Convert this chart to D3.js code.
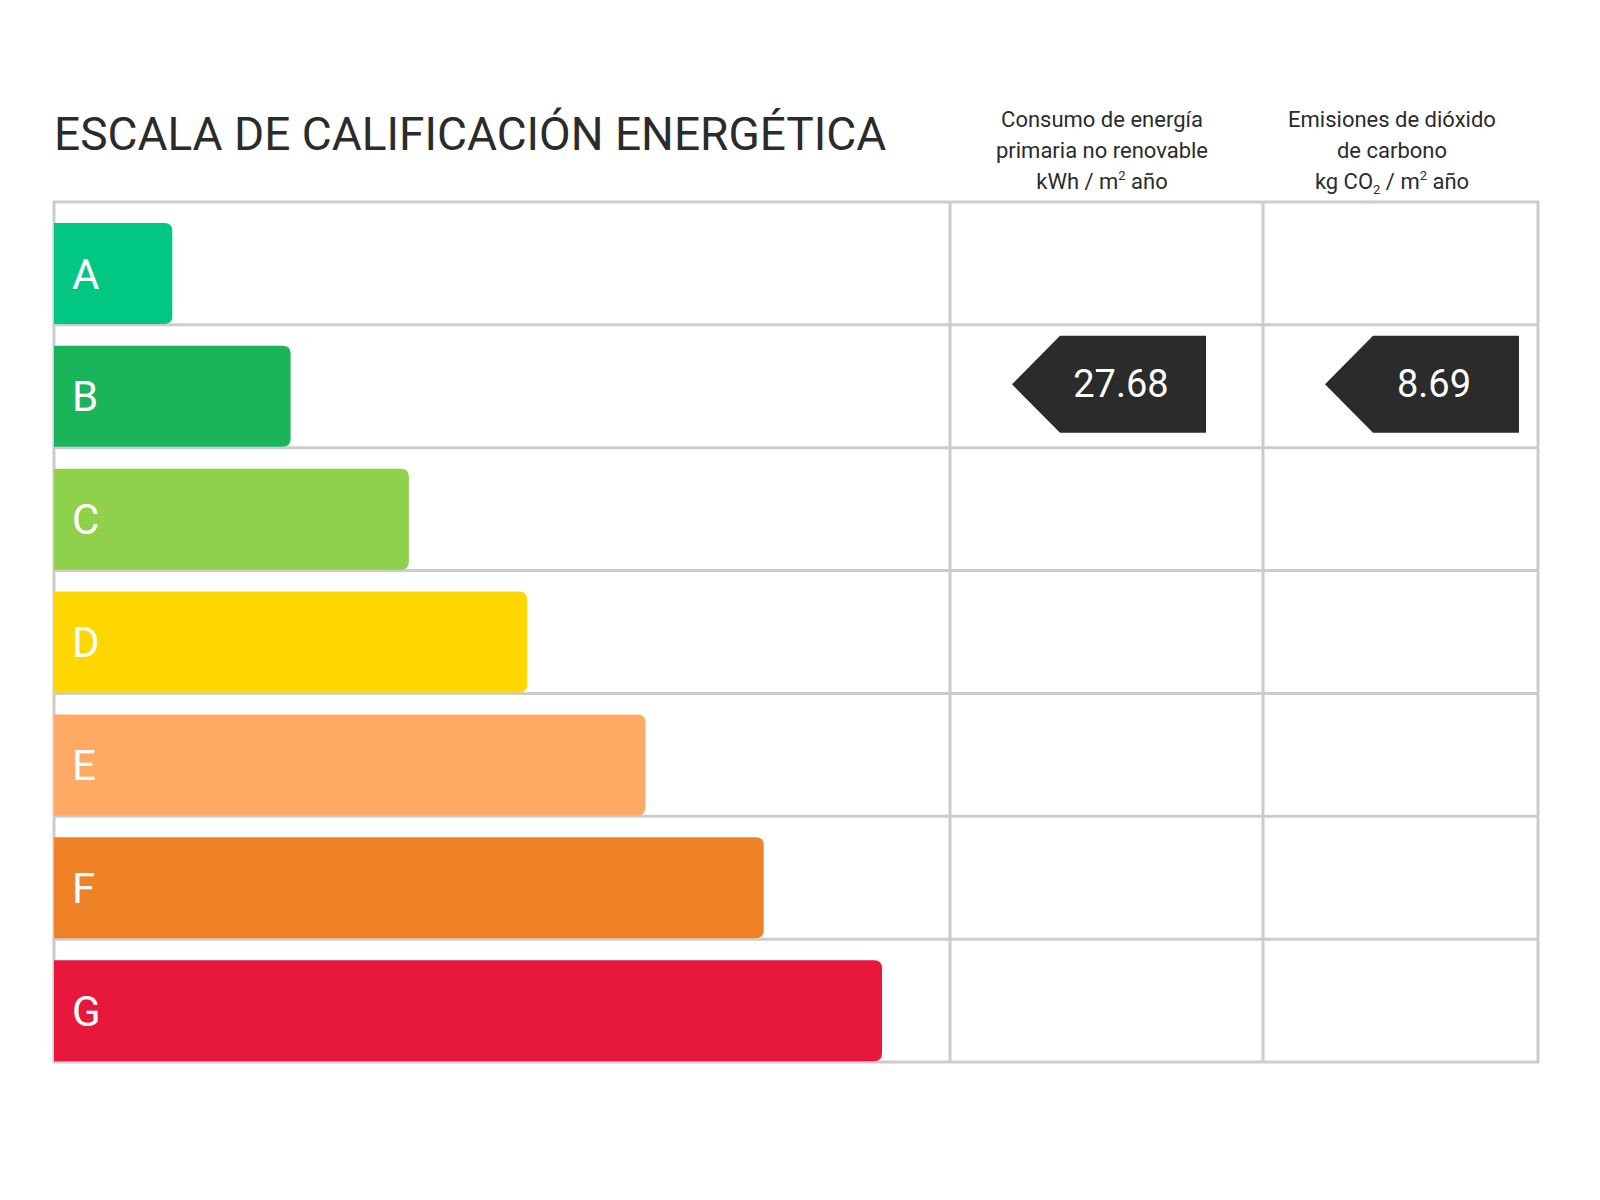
<!DOCTYPE html>
<html><head><meta charset="utf-8">
<script src="https://cdn.jsdelivr.net/npm/d3@7"></script>
<style>body{margin:0;background:#fff}svg text{font-family:Roboto,"DejaVu Sans",sans-serif}</style>
</head><body><svg id="c" width="1600" height="1200"></svg>
<script>
// ── Data ──
const classes = ['A','B','C','D','E','F','G'];
const colors  = ['#00c882','#1ab45a','#8fd14a','#ffd700','#ffaa64','#ef8127','#e8173c'];
const barLen  = [1,2,3,4,5,6,7];
const ratings = [{col:0, cls:'B', value:'27.68'}, {col:1, cls:'B', value:'8.69'}];

const svg = d3.select('#c');
const x0 = 54, x1 = 1538, gTop = 202, gBottom = 1062, colX = [950,1263,1538];
const ink = '#2b2b2b', grid = '#cccccc';

const y = d3.scaleBand().domain(classes).range([gTop,gBottom]);
const w = d3.scaleLinear().domain([0,7]).range([x0,882]);

// ── Title & headers ──
svg.append('text').attr('x',x0).attr('y',150).attr('font-size',46).attr('fill',ink)
  .text('ESCALA DE CALIFICACIÓN ENERGÉTICA');
const hdr = [
  [{t:'Consumo de energía'},{t:'primaria no renovable'},{t:'kWh / m',sup:'2',tail:' año'}],
  [{t:'Emisiones de dióxido'},{t:'de carbono'},{t:'kg CO',sub:'2',mid:' / m',sup:'2',tail:' año'}]
];
const hx = [1102,1392];
hdr.forEach((lines,i)=>lines.forEach((l,j)=>{
  const t = svg.append('text').attr('x',hx[i]).attr('y',127+j*31).attr('text-anchor','middle')
    .attr('font-size',22).attr('fill',ink).text(l.t);
  if(l.sub){ t.append('tspan').attr('font-size',13).attr('dy',5).text(l.sub);
             t.append('tspan').attr('font-size',22).attr('dy',-5).text(l.mid); }
  if(l.sup){ t.append('tspan').attr('font-size',13).attr('dy',-9).text(l.sup);
             t.append('tspan').attr('font-size',22).attr('dy',9).text(l.tail); }
}));

// ── Grid ──
svg.append('rect').attr('x',x0).attr('y',gTop).attr('width',x1-x0).attr('height',gBottom-gTop)
  .attr('fill','none').attr('stroke',grid).attr('stroke-width',3);
svg.selectAll('.hl').data(classes.slice(1)).join('line')
  .attr('x1',x0).attr('x2',x1).attr('y1',d=>y(d)).attr('y2',d=>y(d))
  .attr('stroke',grid).attr('stroke-width',3);
svg.selectAll('.vl').data(colX.slice(0,2)).join('line')
  .attr('x1',d=>d).attr('x2',d=>d).attr('y1',gTop).attr('y2',gBottom)
  .attr('stroke',grid).attr('stroke-width',3);

// ── Bars ──
const bh = 101, r = 8;
const bar = svg.selectAll('.bar').data(classes).join('g');
bar.append('path').attr('fill',(d,i)=>colors[i]).attr('d',(d,i)=>{
  const t = y(d)+21, e = w(barLen[i]);
  return `M${x0},${t}H${e-r}Q${e},${t} ${e},${t+r}V${t+bh-r}Q${e},${t+bh} ${e-r},${t+bh}H${x0}Z`;
});
bar.append('text').attr('x',72).attr('y',d=>y(d)+21+bh/2+15).attr('font-size',42)
  .attr('fill','#fff').text(d=>d);

// ── Rating arrows ──
ratings.forEach(rt=>{
  const left = colX[rt.col], t = y(rt.cls)+11, h = 97;
  const tip = left+62, b0 = tip+48, b1 = b0+146;
  svg.append('path').attr('fill',ink)
    .attr('d',`M${tip},${t+h/2}L${b0},${t}H${b1}V${t+h}H${b0}Z`);
  svg.append('text').attr('x',(b0+b1)/2-12).attr('y',t+h/2+13).attr('text-anchor','middle')
    .attr('font-size',38).attr('fill','#fff').text(rt.value);
});
</script></body></html>
